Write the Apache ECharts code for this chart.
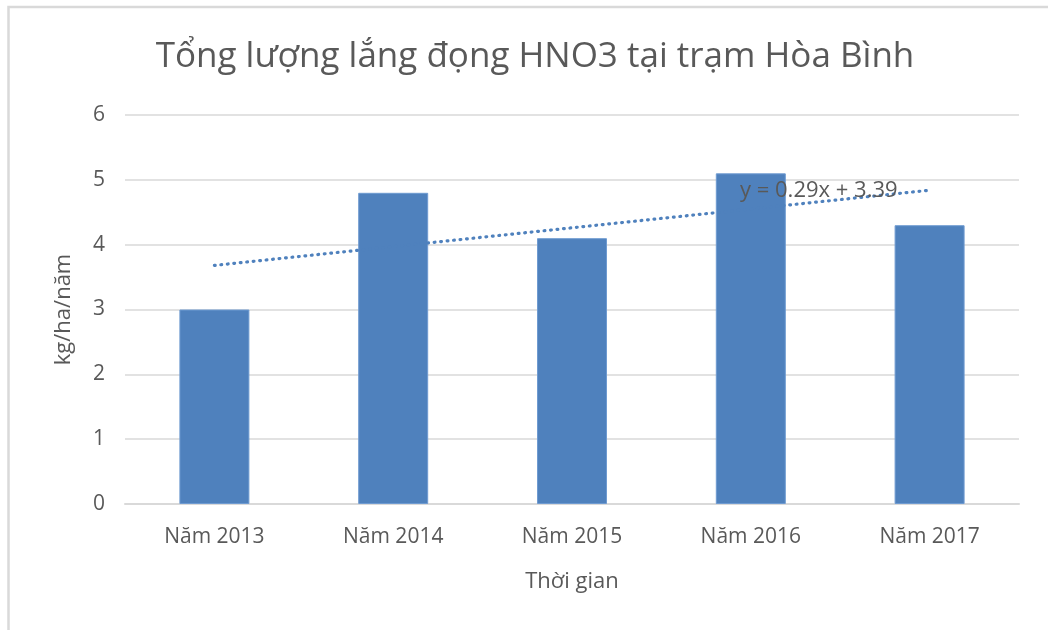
<!DOCTYPE html>
<html>
<head>
<meta charset="utf-8">
<script src="https://cdn.jsdelivr.net/npm/echarts@6/dist/echarts.min.js"></script>
<style>
  html, body { margin: 0; padding: 0; background: #fff; }
  #chart { width: 1048px; height: 630px; }
</style>
</head>
<body>
<div id="chart"></div>
<script>
const categories = ['Năm 2013', 'Năm 2014', 'Năm 2015', 'Năm 2016', 'Năm 2017']
const values = [3.0, 4.8, 4.1, 5.1, 4.3]
// linear trendline y = 0.29x + 3.39, read at each category
const trendValues = [3.68, 3.97, 4.26, 4.55, 4.84]
const trendLabel = 'y = 0.29x + 3.39'
const yTicks = [0, 1, 2, 3, 4, 5, 6]

const fontFamily = '"Open Sans", "Noto Sans", sans-serif'
const textColor = '#595959'
const gridColor = '#d9d9d9'
const barColor = '#4f81bd'

const myChart = echarts.init(document.getElementById('chart'))

const option = {
  backgroundColor: '#fff',
  animation: false,
  title: {
    text: 'Tổng lượng lắng đọng HNO3 tại trạm Hòa Bình',
    left: 530,
    top: 35,
    textAlign: 'center',
    textStyle: {
      fontFamily: fontFamily,
      fontSize: 35,
      fontWeight: 'normal',
      color: textColor
    }
  },
  grid: {
    left: 125,
    right: 29,
    top: 115,
    bottom: 126
  },
  xAxis: {
    type: 'category',
    data: categories,
    name: 'Thời gian',
    nameLocation: 'middle',
    nameGap: 67,
    nameTextStyle: { fontFamily: fontFamily, fontSize: 22, color: textColor },
    axisLine: { lineStyle: { color: gridColor, width: 2 } },
    axisTick: { show: false },
    axisLabel: {
      margin: 23,
      fontFamily: fontFamily,
      fontSize: 21,
      color: textColor
    }
  },
  yAxis: {
    type: 'value',
    min: yTicks[0],
    max: yTicks[yTicks.length - 1],
    interval: 1,
    name: 'kg/ha/năm',
    nameLocation: 'middle',
    nameGap: 50,
    nameTextStyle: { fontFamily: fontFamily, fontSize: 22, color: textColor },
    axisLine: { show: false },
    axisTick: { show: false },
    axisLabel: {
      margin: 20,
      fontFamily: fontFamily,
      fontSize: 21,
      color: textColor
    },
    splitLine: { lineStyle: { color: gridColor, width: 1.5 } }
  },
  series: [
    {
      type: 'bar',
      data: values,
      barWidth: 70,
      itemStyle: { color: barColor, borderColor: '#6f9bd1', borderWidth: 1 },
      z: 2
    },
    {
      type: 'line',
      data: trendValues,
      symbol: 'none',
      z: 3,
      lineStyle: { color: barColor, width: 3.2, type: [0.8, 5.7], cap: 'round' }
    }
  ],
  graphic: [
    {
      type: 'text',
      left: 740,
      top: 180,
      z: 10,
      style: {
        text: trendLabel,
        fontFamily: fontFamily,
        fontSize: 22,
        fill: textColor
      }
    },
    {
      type: 'polyline',
      z: 10,
      shape: { points: [[8.5, 630], [8.5, 7], [1048, 7]] },
      style: { stroke: gridColor, lineWidth: 2.5, fill: null }
    }
  ]
}

myChart.setOption(option, true)
</script>
</body>
</html>
